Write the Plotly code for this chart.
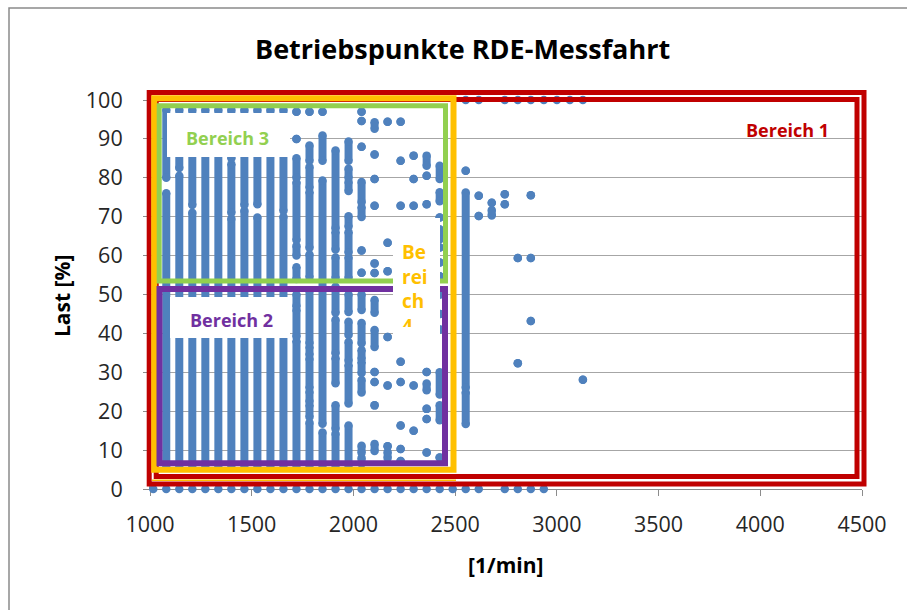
import plotly.graph_objects as go

# ---------------- data ----------------
rpm_cols = [1080, 1144, 1208, 1272, 1336, 1400, 1464, 1528, 1592, 1656,
            1720, 1784, 1848, 1912, 1976, 2040, 2104, 2168, 2232, 2296,
            2360, 2424, 2552, 2616, 2680, 2744, 2808, 2872, 3128]

# load ranges [lo, hi] in % per rpm column (lo == hi -> single point)
load_segments = [
    [(6, 76), (80, 97.5)],
    [(6, 80.5), (82.5, 97.5)],
    [(6, 71), (73, 97.5)],
    [(6, 97.5)],
    [(6, 97.5)],
    [(6, 69.5), (71, 83.5), (85, 97.5)],
    [(6, 71.5), (73, 97.5)],
    [(6, 69.8), (73.2, 97.5)],
    [(6, 97.5)],
    [(6, 70), (71.5, 97.5)],
    [(6, 38), (39.2, 46), (47, 50), (54, 57), (60, 62.5), (64, 78.8), (80, 85), (90, 90), (97, 97)],
    [(6, 17), (18.5, 21.5), (22.5, 25), (26, 33.5), (34.5, 36.5), (37.5, 51), (54.5, 60.3),
     (62, 76.3), (77.5, 82.8), (84.4, 88.3), (97, 97)],
    [(6, 14.5), (16.8, 79.3), (84.4, 90.9), (97, 97)],
    [(6, 14.2), (15.5, 21.5), (27.2, 33.6), (34.9, 43.5), (45.3, 52), (54.3, 59.5), (61.6, 66), (67, 87)],
    [(6, 16.3), (22, 31.8), (33, 37.8), (39.6, 43), (45.5, 50), (54.3, 59.5), (60.8, 66),
     (67.5, 70.1), (76.6, 78.9), (80, 82.3), (84.4, 89.3)],
    [(6.5, 8), (9.3, 11.1), (24.8, 28), (29.8, 32.6), (33.5, 35.7), (37.5, 42.7), (46, 50),
     (55.6, 55.6), (61.3, 61.3), (69.9, 72.4), (73.7, 78.9), (88, 88), (94.6, 94.6), (97, 97)],
    [(9.8, 11.6), (21.5, 21.5), (27.5, 27.5), (30.1, 30.1), (36.5, 40.9), (45.3, 48.6),
     (55.5, 55.5), (58, 58), (72.8, 72.8), (79.7, 79.7), (86, 86), (92.6, 94.3)],
    [(8, 9.5), (11, 11), (26.6, 26.6), (39.1, 39.1), (56, 56), (63.3, 63.3), (94.4, 94.4)],
    [(7.2, 7.2), (10.3, 10.3), (16.3, 16.3), (27.5, 27.5), (32.7, 32.7), (72.8, 72.8),
     (84.4, 84.4), (94.4, 94.4)],
    [(15, 15), (26.6, 26.6), (72.8, 72.8), (79.7, 79.7), (85.7, 85.7)],
    [(9.4, 9.4), (18, 18), (20.6, 20.6), (25.4, 27.1), (30.1, 30.1), (73.2, 73.2),
     (80.5, 80.5), (83.1, 85.7)],
    [(8.1, 8.1), (17.7, 21.5), (24.3, 30), (41, 41), (45, 45), (50, 50), (54.7, 54.7),
     (58.2, 58.2), (62.1, 62.1), (64.2, 66.8), (69.8, 69.8), (74, 76.3), (79.7, 83.1)],
    [(16.7, 24.8), (26, 76.2), (81.8, 81.8)],
    [(70.2, 70.2), (75.4, 75.4)],
    [(70.3, 71.7), (73.6, 73.6)],
    [(73.2, 73.2), (75.8, 75.8)],
    [(32.3, 32.3), (59.4, 59.4)],
    [(43.2, 43.2), (59.4, 59.4), (75.5, 75.5)],
    [(28.1, 28.1)],
]

rpm_zero_load = [1016, 1080, 1144, 1208, 1272, 1336, 1400, 1464, 1528, 1592, 1656,
                 1720, 1784, 1848, 1912, 1976, 2040, 2104, 2168, 2232, 2296, 2360,
                 2424, 2488, 2552, 2616, 2744, 2808, 2872, 2936]
rpm_full_load = [2552, 2616, 2744, 2808, 2872, 2936, 3000, 3064, 3128]

x_ticks = [1000, 1500, 2000, 2500, 3000, 3500, 4000, 4500]
y_ticks = [0, 10, 20, 30, 40, 50, 60, 70, 80, 90, 100]

# ---------------- styling ----------------
BLUE = "#4F81BD"
RED = "#C00000"
YELLOW = "#FFC000"
GREEN = "#92D050"
PURPLE = "#7030A0"
FONT = "Open Sans"

W, H = 907, 610
L, R, T, B = 150, 45, 100, 121
PW, PH = W - L - R, H - T - B


def px(x):
    return (x - L) / PW


def py(y):
    return (H - B - y) / PH


seg_x, seg_y = [], []
for rpm, segs in zip(rpm_cols, load_segments):
    for lo, hi in segs:
        seg_x += [rpm, rpm, None]
        seg_y += [lo, hi, None]

fig = go.Figure()
fig.add_trace(go.Scatter(x=seg_x, y=seg_y, mode="lines+markers",
                         line=dict(color=BLUE, width=8),
                         marker=dict(color=BLUE, size=8.5, symbol="circle"),
                         cliponaxis=False, hoverinfo="skip", showlegend=False))
fig.add_trace(go.Scatter(x=rpm_zero_load, y=[0] * len(rpm_zero_load), mode="markers",
                         marker=dict(color=BLUE, size=8.5), cliponaxis=False,
                         hoverinfo="skip", showlegend=False))
fig.add_trace(go.Scatter(x=rpm_full_load, y=[100] * len(rpm_full_load), mode="markers",
                         marker=dict(color=BLUE, size=8.5), cliponaxis=False,
                         hoverinfo="skip", showlegend=False))


def rect(x0, y0, x1, y1, color, width, fill=None):
    return dict(type="rect", xref="paper", yref="paper",
                x0=px(x0), x1=px(x1), y0=py(y0), y1=py(y1),
                line=dict(color=color, width=width),
                fillcolor=fill if fill else "rgba(0,0,0,0)", layer="above")


def hline(x0, x1, y, color, width):
    return dict(type="line", xref="paper", yref="paper", x0=px(x0), x1=px(x1),
                y0=py(y), y1=py(y), line=dict(color=color, width=width), layer="above")


shapes = [
    # chart frame
    dict(type="rect", xref="paper", yref="paper", x0=px(9), x1=px(940), y0=py(8), y1=py(640),
         line=dict(color="#8a8a8a", width=1.5), fillcolor="rgba(0,0,0,0)", layer="below"),
    # Bereich 1 (double red line)
    rect(149.2, 92.5, 864, 484, RED, 5),
    rect(156.2, 99.5, 857, 476.5, RED, 5),
    hline(152, 456, 480.2, YELLOW, 1.5),
    # Bereich 4
    rect(154.2, 98.3, 453.5, 469.7, YELLOW, 6),
    # Bereich 3
    rect(159.2, 105.8, 445.5, 281, GREEN, 5),
    # Bereich 2
    rect(159.5, 289, 445, 463.3, PURPLE, 6),
    # white text boxes
    rect(167, 113, 290, 157, "white", 0, "white"),
    rect(170, 297, 290, 338, "white", 0, "white"),
    rect(393, 218, 440, 348, "white", 0, "white"),
]


def ann(text, x, y, size, color, bold=True, xanchor="center", yanchor="middle", angle=0, **kw):
    return dict(text=text, xref="paper", yref="paper", x=px(x), y=py(y), showarrow=False,
                xanchor=xanchor, yanchor=yanchor, textangle=angle,
                font=dict(family=FONT, size=size, color=color, weight="bold" if bold else "normal"),
                **kw)


annotations = [
    ann("Betriebspunkte RDE-Messfahrt", 462, 48, 27, "#000000"),
    ann("Last [%]", 62, 296, 21, "#000000", angle=-90),
    ann("[1/min]", 505, 565, 21, "#000000"),
    ann("Bereich 1", 787, 130, 18, RED),
    ann("Bereich 3", 227, 138, 18, GREEN),
    ann("Bereich 2", 231, 320, 18, PURPLE),
    ann("Be<br>rei<br>ch<br>4", 401, 238, 19, YELLOW, xanchor="left", yanchor="top",
        align="left", valign="top", height=88, width=38, borderpad=0),
]

fig.update_layout(
    width=W, height=H,
    margin=dict(l=L, r=R, t=T, b=B),
    paper_bgcolor="white", plot_bgcolor="white",
    shapes=shapes, annotations=annotations,
    font=dict(family=FONT, color="#262626"),
    xaxis=dict(range=[1000, 4500], tickvals=x_ticks, showgrid=False, zeroline=False,
               showline=True, linecolor="#8c8c8c", linewidth=1, ticks="outside", ticklen=6,
               tickcolor="#8c8c8c", tickfont=dict(size=21.5, color="#262626"),
               ticklabelstandoff=10, layer="below traces"),
    yaxis=dict(range=[0, 100], tickvals=y_ticks, showgrid=True, gridcolor="#a6a6a6",
               gridwidth=1, zeroline=False, showline=True, linecolor="#8c8c8c",
               ticks="outside", ticklen=6, tickcolor="#8c8c8c",
               tickfont=dict(size=21.5, color="#262626"), ticklabelstandoff=16,
               layer="below traces"),
)

fig.write_html("out.html", config={"displayModeBar": False},
               post_script="document.body.style.margin='0px';")
